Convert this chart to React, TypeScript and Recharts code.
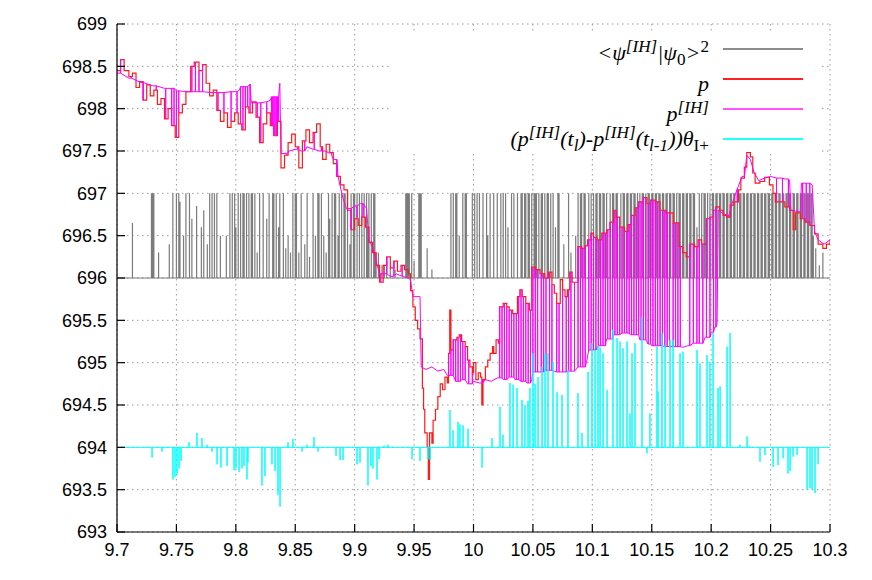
import React from 'react';
import { LineChart, Line, XAxis, YAxis, CartesianGrid, Legend } from 'recharts';

// ---------- axis ticks ----------
const xTicks = [9.7, 9.75, 9.8, 9.85, 9.9, 9.95, 10, 10.05, 10.1, 10.15, 10.2, 10.25, 10.3];
const yTicks = [693, 693.5, 694, 694.5, 695, 695.5, 696, 696.5, 697, 697.5, 698, 698.5, 699];

// ---------- p (price, red step line) ----------
const pPrice: number[][] = [
  [9.700, 698.45], [9.703, 698.58], [9.706, 698.45], [9.710, 698.38], [9.713, 698.42], [9.716, 698.25],
  [9.719, 698.32], [9.722, 698.10], [9.725, 698.28], [9.728, 698.15], [9.731, 698.22], [9.734, 698.05],
  [9.737, 698.12], [9.740, 697.88], [9.743, 698.00], [9.746, 697.80], [9.749, 697.66], [9.752, 697.95],
  [9.755, 698.05], [9.758, 698.20], [9.762, 698.50], [9.765, 698.55], [9.769, 698.45], [9.772, 698.52],
  [9.775, 698.30], [9.778, 698.15], [9.781, 698.22], [9.784, 697.98], [9.787, 697.85], [9.790, 697.95],
  [9.793, 697.78], [9.796, 697.85], [9.799, 697.95], [9.802, 697.82], [9.805, 697.75], [9.808, 698.02],
  [9.811, 697.95], [9.814, 698.08], [9.817, 697.90], [9.820, 697.60], [9.823, 697.82], [9.826, 697.95],
  [9.829, 697.80], [9.832, 697.68], [9.835, 697.85], [9.838, 697.30], [9.841, 697.45], [9.844, 697.60],
  [9.847, 697.70], [9.850, 697.55], [9.853, 697.30], [9.856, 697.62], [9.859, 697.75], [9.862, 697.60],
  [9.865, 697.72], [9.868, 697.82], [9.871, 697.55], [9.873, 697.40], [9.876, 697.58], [9.879, 697.48],
  [9.882, 697.35], [9.885, 697.20], [9.888, 697.10], [9.891, 697.04], [9.894, 696.80], [9.897, 696.57],
  [9.900, 696.70], [9.903, 696.62], [9.906, 696.72], [9.909, 696.60], [9.912, 696.42], [9.915, 696.30],
  [9.918, 696.15], [9.921, 695.95], [9.924, 696.15], [9.927, 696.25], [9.930, 696.12], [9.933, 696.20],
  [9.936, 696.08], [9.939, 696.15], [9.942, 696.10], [9.945, 696.05], [9.947, 695.85], [9.949, 695.66],
  [9.951, 695.50], [9.953, 695.40], [9.955, 695.28], [9.957, 694.70], [9.958, 694.45], [9.959, 694.17],
  [9.961, 694.00], [9.962, 693.62], [9.963, 694.17], [9.965, 694.05], [9.966, 694.32], [9.968, 694.45],
  [9.970, 694.60], [9.972, 694.75], [9.974, 694.68], [9.976, 694.83], [9.978, 694.76], [9.979, 695.11],
  [9.980, 695.62], [9.981, 695.15], [9.983, 695.27], [9.986, 695.30], [9.988, 695.33], [9.990, 695.25],
  [9.993, 695.19], [9.995, 695.03], [9.997, 694.95], [9.999, 694.88], [10.000, 695.00], [10.002, 694.80],
  [10.004, 694.88], [10.006, 694.83], [10.007, 694.50], [10.008, 694.80], [10.010, 694.95], [10.012, 695.03],
  [10.014, 695.11], [10.016, 695.19], [10.017, 695.11], [10.019, 695.27], [10.021, 695.23], [10.022, 695.66],
  [10.025, 695.70], [10.028, 695.66], [10.030, 695.62], [10.033, 695.58], [10.036, 695.58], [10.037, 695.78],
  [10.039, 695.86], [10.041, 695.78], [10.044, 695.70], [10.047, 695.62], [10.049, 696.13], [10.052, 696.10],
  [10.056, 696.05], [10.060, 696.00], [10.063, 696.07], [10.066, 695.92], [10.068, 695.82], [10.070, 695.70],
  [10.073, 695.98], [10.075, 695.86], [10.077, 695.78], [10.079, 695.86], [10.081, 696.07], [10.083, 695.95],
  [10.088, 696.37], [10.091, 696.35], [10.094, 696.38], [10.096, 696.45], [10.099, 696.53], [10.101, 696.48],
  [10.104, 696.45], [10.108, 696.53], [10.112, 696.57], [10.115, 696.66], [10.118, 696.80], [10.120, 696.72],
  [10.123, 696.60], [10.127, 696.55], [10.130, 696.63], [10.133, 696.74], [10.136, 696.83], [10.139, 696.90],
  [10.143, 696.95], [10.146, 696.88], [10.149, 696.92], [10.153, 696.90], [10.157, 696.80], [10.162, 696.77],
  [10.168, 696.65], [10.173, 696.37], [10.176, 696.30], [10.179, 696.25], [10.182, 696.40], [10.186, 696.37],
  [10.189, 696.45], [10.192, 696.40], [10.196, 696.70], [10.199, 696.72], [10.202, 696.80], [10.204, 696.84],
  [10.207, 696.80], [10.210, 696.74], [10.213, 696.72], [10.216, 696.86], [10.219, 696.90], [10.223, 697.04],
  [10.225, 697.18], [10.228, 697.31], [10.230, 697.48], [10.233, 697.43], [10.235, 697.24], [10.237, 697.12],
  [10.241, 697.14], [10.245, 697.19], [10.249, 697.10], [10.252, 697.00], [10.254, 696.90], [10.258, 696.90],
  [10.262, 696.84], [10.266, 696.80], [10.269, 696.57], [10.271, 696.77], [10.275, 696.70], [10.279, 696.66],
  [10.283, 696.62], [10.287, 696.52], [10.290, 696.40], [10.294, 696.35], [10.297, 696.40], [10.300, 696.45],
];

// ---------- p^[IH] (magenta): slow curve ----------
const pIHBase: number[][] = [
  [9.700, 698.42], [9.710, 698.36], [9.720, 698.31], [9.730, 698.27], [9.740, 698.24], [9.750, 698.21],
  [9.760, 698.20], [9.780, 698.19], [9.795, 698.20], [9.803, 698.22], [9.804, 698.26], [9.812, 698.29],
  [9.813, 698.07], [9.820, 698.07], [9.825, 698.08], [9.829, 698.10], [9.830, 698.14], [9.837, 698.30],
  [9.838, 697.47], [9.845, 697.50], [9.850, 697.52], [9.855, 697.50], [9.860, 697.55], [9.865, 697.52],
  [9.870, 697.50], [9.875, 697.50], [9.878, 697.48], [9.882, 697.40], [9.886, 697.20], [9.890, 696.95],
  [9.893, 696.82], [9.900, 696.85], [9.905, 696.88], [9.910, 696.82], [9.912, 696.45], [9.915, 696.37],
  [9.918, 696.20], [9.921, 696.05], [9.930, 696.02], [9.935, 696.05], [9.940, 696.02], [9.945, 696.00],
  [9.947, 695.98], [9.949, 695.78], [9.955, 695.78], [9.956, 694.95], [9.960, 694.92], [9.965, 694.95],
  [9.970, 694.90], [9.975, 694.92], [9.978, 694.85], [9.985, 694.78], [9.990, 694.80], [9.995, 694.75],
  [10.000, 694.78], [10.005, 694.76], [10.010, 694.80], [10.015, 694.78], [10.020, 694.82], [10.025, 694.80],
  [10.030, 694.83], [10.035, 694.80], [10.040, 694.78], [10.045, 694.76], [10.049, 694.80], [10.050, 694.89],
  [10.060, 694.91], [10.070, 694.89], [10.080, 694.90], [10.088, 694.95], [10.095, 695.00], [10.097, 695.15],
  [10.105, 695.20], [10.112, 695.28], [10.118, 695.33], [10.125, 695.35], [10.132, 695.33], [10.140, 695.27],
  [10.147, 695.22], [10.150, 695.20], [10.160, 695.19], [10.170, 695.19], [10.176, 695.18], [10.180, 695.20],
  [10.185, 695.23], [10.195, 695.30], [10.200, 695.36], [10.203, 695.42], [10.205, 695.47], [10.206, 696.80],
  [10.210, 696.76], [10.214, 696.74], [10.218, 696.90], [10.222, 697.05], [10.226, 697.20], [10.230, 697.45],
  [10.233, 697.40], [10.236, 697.25], [10.240, 697.15], [10.245, 697.18], [10.250, 697.20], [10.255, 697.18],
  [10.262, 697.17], [10.266, 697.15], [10.267, 696.80], [10.275, 696.78], [10.276, 697.12], [10.285, 697.10],
  [10.287, 696.55], [10.290, 696.45], [10.295, 696.40], [10.300, 696.45],
];

// times at which p^[IH] is reset to p (vertical magenta lines)
const pIHJumps: number[] = [
  9.703, 9.712, 9.722, 9.733, 9.741, 9.746, 9.748, 9.750, 9.752, 9.763, 9.766, 9.769, 9.772, 9.785, 9.790,
  9.796, 9.801, 9.804, 9.806, 9.808, 9.810, 9.812, 9.818, 9.821, 9.826, 9.830, 9.831, 9.832, 9.833, 9.834,
  9.835, 9.836, 9.843, 9.852, 9.858, 9.866, 9.872, 9.880, 9.885, 9.897, 9.902, 9.907, 9.922, 9.927, 9.933,
  9.940, 9.979, 9.981, 9.983, 9.985, 9.987, 9.989, 9.991, 9.993, 9.996, 9.999, 10.008, 10.022, 10.024,
  10.026, 10.028, 10.030, 10.032, 10.034, 10.036, 10.038, 10.040, 10.042, 10.044, 10.046, 10.048, 10.050,
  10.052, 10.054, 10.057, 10.059, 10.061, 10.064, 10.066, 10.070, 10.072, 10.075, 10.078, 10.080, 10.082,
  10.085, 10.088, 10.090, 10.092, 10.094, 10.097, 10.099, 10.101, 10.103, 10.105, 10.107, 10.109, 10.111,
  10.113, 10.115, 10.117, 10.119, 10.121, 10.123, 10.125, 10.127, 10.129, 10.131, 10.133, 10.135, 10.137,
  10.139, 10.141, 10.143, 10.145, 10.147, 10.149, 10.151, 10.153, 10.155, 10.157, 10.159, 10.161, 10.163,
  10.165, 10.168, 10.170, 10.172, 10.174, 10.182, 10.185, 10.188, 10.190, 10.193, 10.196, 10.199, 10.202,
  10.204, 10.215, 10.222, 10.228, 10.255, 10.260, 10.265, 10.277, 10.280, 10.283,
];

// ---------- <psi^[IH]|psi_0>^2 (gray impulses, drawn offset on 696) ----------
const overlapOffset = 696;
const overlapSpikes: number[][] = [
  [9.713, 0.65], [9.729, 1], [9.730, 1], [9.731, 1], [9.735, 0.3], [9.744, 0.4], [9.747, 1], [9.750, 1],
  [9.752, 1], [9.753, 0.9], [9.756, 0.5], [9.758, 1], [9.761, 1], [9.763, 0.7], [9.767, 0.85], [9.771, 0.6],
  [9.773, 0.8], [9.776, 0.4], [9.778, 1], [9.780, 1], [9.782, 1], [9.784, 1], [9.787, 0.5], [9.792, 0.5],
  [9.795, 1], [9.797, 1], [9.799, 1], [9.800, 0.6], [9.802, 1], [9.804, 1], [9.806, 1], [9.807, 1],
  [9.809, 1], [9.811, 1], [9.813, 1], [9.814, 1], [9.816, 1], [9.818, 0.3], [9.820, 1], [9.823, 1],
  [9.826, 0.7], [9.828, 1], [9.831, 1], [9.832, 1], [9.834, 1], [9.836, 0.6], [9.837, 1], [9.840, 1],
  [9.842, 0.35], [9.844, 0.5], [9.846, 0.3], [9.848, 1], [9.850, 1], [9.851, 1], [9.853, 0.3], [9.855, 1],
  [9.858, 0.4], [9.860, 1], [9.862, 0.25], [9.865, 1], [9.867, 0.5], [9.869, 1], [9.870, 1], [9.872, 1],
  [9.874, 0.5], [9.876, 0.3], [9.878, 1], [9.879, 0.7], [9.881, 1], [9.883, 1], [9.884, 1], [9.886, 0.5],
  [9.887, 1], [9.889, 1], [9.891, 1], [9.892, 1], [9.894, 1], [9.896, 0.4], [9.897, 1], [9.899, 1],
  [9.900, 1], [9.902, 1], [9.904, 1], [9.906, 1], [9.908, 1], [9.910, 1], [9.911, 0.6], [9.912, 1],
  [9.914, 1], [9.916, 1], [9.917, 1], [9.918, 0.3], [9.920, 0.3], [9.923, 0.15], [9.925, 0.15],
  [9.927, 0.2], [9.930, 0.12], [9.934, 0.1], [9.943, 1], [9.944, 1], [9.945, 1], [9.946, 1], [9.948, 1],
  [9.950, 0.2], [9.954, 1], [9.955, 1], [9.956, 1], [9.961, 0.35], [9.965, 0.1], [9.981, 1], [9.983, 1],
  [9.985, 1], [9.986, 1], [9.988, 0.5], [9.991, 1], [9.993, 1], [9.994, 1], [9.999, 1], [10.001, 1],
  [10.003, 1], [10.005, 1], [10.008, 1], [10.011, 1], [10.012, 0.5], [10.014, 1], [10.017, 1], [10.020, 1],
  [10.023, 1], [10.025, 1], [10.027, 1], [10.029, 0.6], [10.032, 1], [10.034, 1], [10.037, 1], [10.040, 1],
  [10.041, 1], [10.043, 1], [10.044, 1], [10.046, 1], [10.047, 1], [10.049, 1], [10.051, 1], [10.052, 1],
  [10.053, 1], [10.055, 1], [10.057, 1], [10.058, 1], [10.060, 1], [10.062, 1], [10.063, 1], [10.065, 1],
  [10.067, 1], [10.069, 0.6], [10.071, 1], [10.072, 1], [10.076, 0.4], [10.080, 1], [10.082, 0.3],
  [10.086, 0.5], [10.088, 1], [10.090, 1], [10.091, 1], [10.093, 1], [10.094, 1], [10.097, 1], [10.099, 1],
  [10.101, 1], [10.103, 1], [10.104, 1], [10.106, 1], [10.107, 1], [10.109, 1], [10.110, 1], [10.112, 1],
  [10.115, 1], [10.117, 1], [10.118, 1], [10.120, 1], [10.121, 1], [10.124, 1], [10.126, 1], [10.127, 1],
  [10.129, 1], [10.130, 1], [10.132, 1], [10.133, 1], [10.135, 1], [10.136, 1], [10.138, 1], [10.140, 1],
  [10.142, 1], [10.143, 1], [10.145, 1], [10.147, 1], [10.148, 1], [10.150, 1], [10.151, 1], [10.153, 1],
  [10.154, 1], [10.156, 1], [10.157, 1], [10.159, 1], [10.160, 1], [10.162, 1], [10.163, 1], [10.165, 1],
  [10.166, 1], [10.168, 1], [10.169, 1], [10.171, 1], [10.173, 1], [10.174, 1], [10.176, 1], [10.177, 1],
  [10.179, 1], [10.180, 1], [10.182, 1], [10.183, 1], [10.185, 1], [10.186, 1], [10.188, 0.6], [10.190, 1],
  [10.192, 1], [10.194, 1], [10.195, 1], [10.197, 1], [10.199, 1], [10.201, 1], [10.202, 1], [10.204, 1],
  [10.205, 1], [10.207, 1], [10.208, 1], [10.210, 1], [10.211, 1], [10.213, 1], [10.214, 1], [10.216, 1],
  [10.217, 1], [10.219, 1], [10.220, 1], [10.222, 1], [10.224, 1], [10.225, 1], [10.227, 1], [10.228, 1],
  [10.230, 1], [10.231, 1], [10.233, 1], [10.234, 1], [10.236, 1], [10.237, 1], [10.239, 1], [10.240, 1],
  [10.242, 1], [10.243, 1], [10.245, 1], [10.246, 1], [10.248, 1], [10.249, 1], [10.251, 1], [10.252, 1],
  [10.254, 1], [10.255, 1], [10.257, 1], [10.258, 1], [10.260, 1], [10.261, 1], [10.263, 1], [10.264, 1],
  [10.266, 1], [10.267, 1], [10.269, 1], [10.270, 1], [10.272, 1], [10.273, 1], [10.275, 1], [10.276, 1],
  [10.278, 1], [10.279, 1], [10.281, 1], [10.282, 1], [10.284, 1], [10.285, 1], [10.286, 0.5],
  [10.288, 0.35], [10.291, 0.15], [10.294, 0.3],
];

// ---------- (p^[IH](t_l)-p^[IH](t_{l-1})) theta (cyan impulses, baseline 694) ----------
const thetaBaseline = 694;
const thetaSpikes: number[][] = [
  [9.7295, 693.88], [9.7379, 693.95], [9.7471, 693.62], [9.7488, 693.65], [9.7505, 693.68], [9.7522, 693.75],
  [9.7539, 693.84], [9.7606, 694.06], [9.7673, 694.17], [9.7715, 694.11], [9.7757, 694.03], [9.7799, 693.95],
  [9.7842, 693.80], [9.7875, 693.76], [9.7926, 693.78], [9.7985, 693.73], [9.8001, 693.75], [9.8027, 693.71],
  [9.8052, 693.75], [9.8069, 693.78], [9.8094, 693.62], [9.8102, 693.82], [9.822, 693.55], [9.8245, 693.66],
  [9.8304, 693.80], [9.833, 693.72], [9.8355, 693.44], [9.8372, 693.30], [9.8439, 694.06], [9.8481, 694.10],
  [9.8557, 693.95], [9.8599, 694.03], [9.8658, 694.12], [9.8692, 693.95], [9.8843, 693.90], [9.8877, 693.85],
  [9.8902, 693.85], [9.902, 693.80], [9.9045, 693.82], [9.9112, 693.55], [9.9137, 693.78], [9.9154, 693.75],
  [9.9188, 693.62], [9.9205, 693.86], [9.9247, 694.02], [9.928, 694.03], [9.9483, 693.86], [9.955, 693.84],
  [9.9617, 693.86], [9.9635, 693.85], [9.9802, 694.44], [9.9828, 694.20], [9.987, 694.30], [9.9886, 694.27],
  [9.9912, 694.26], [9.9954, 694.22], [10.0072, 693.76], [10.0156, 694.11], [10.0223, 694.48], [10.0248, 694.15],
  [10.0307, 694.76], [10.0333, 694.74], [10.0366, 694.70], [10.0408, 694.56], [10.0433, 694.50], [10.0459, 694.55],
  [10.0475, 694.70], [10.0501, 695.11], [10.0518, 694.75], [10.0543, 694.83], [10.0577, 694.95], [10.0602, 695.11],
  [10.0627, 695.11], [10.0669, 695.01], [10.0703, 694.65], [10.0745, 694.62], [10.0795, 694.91], [10.0879, 694.64],
  [10.0913, 694.17], [10.0964, 694.89], [10.0997, 695.23], [10.1023, 695.15], [10.1048, 695.20], [10.1065, 695.18],
  [10.109, 695.11], [10.1124, 694.68], [10.1174, 695.39], [10.1208, 695.29], [10.1233, 695.25], [10.1258, 695.17],
  [10.1292, 695.25], [10.1317, 694.40], [10.1334, 695.11], [10.1359, 695.23], [10.1418, 695.54], [10.146, 693.93],
  [10.1485, 694.40], [10.1544, 695.19], [10.1553, 694.66], [10.1586, 695.35], [10.1612, 695.21], [10.1654, 695.27],
  [10.1679, 695.27], [10.1738, 695.11], [10.1763, 695.13], [10.1881, 695.15], [10.1906, 694.99], [10.1965, 695.09],
  [10.199, 695.01], [10.2016, 695.35], [10.2058, 694.70], [10.2075, 694.72], [10.2134, 695.19], [10.2159, 695.35],
  [10.2243, 694.03], [10.2302, 694.13], [10.2327, 694.01], [10.2411, 693.83], [10.2453, 693.91], [10.2521, 693.77],
  [10.2563, 693.79], [10.2605, 693.87], [10.2647, 693.69], [10.2664, 693.72], [10.2689, 693.89], [10.2723, 693.91],
  [10.2807, 693.50], [10.2832, 693.52], [10.2849, 693.50], [10.2874, 693.46], [10.29, 693.80],
];

// ---------- build series tables ----------
const X_MIN = xTicks[0];
const X_MAX = xTicks[xTicks.length - 1];

const stepAt = (s: number[][], x: number) => {
  let v = s[0][1];
  for (const [sx, sy] of s) {
    if (sx <= x + 1e-9) v = sy;
    else break;
  }
  return v;
};

const impulses = (base: number, spikes: number[][]) => {
  const sorted = [...spikes].sort((a, b) => a[0] - b[0]);
  const out: { x: number; y: number }[] = [{ x: X_MIN, y: base }];
  for (const [x, v] of sorted) out.push({ x, y: base }, { x, y: v }, { x, y: base });
  out.push({ x: X_MAX, y: base });
  return out;
};

const priceData = pPrice.map(([x, y]) => ({ x, y }));
const overlapData = impulses(overlapOffset, overlapSpikes.map(([x, h]) => [x, overlapOffset + h]));
const thetaData = impulses(thetaBaseline, thetaSpikes);
const ihData = (() => {
  const evts = [
    ...pIHBase.map(([x, y]) => ({ x, y, k: 0 })),
    ...pIHJumps.map((x) => ({ x, y: 0, k: 1 })),
  ].sort((a, b) => a.x - b.x || a.k - b.k);
  const out: { x: number; y: number }[] = [];
  for (const e of evts) {
    if (e.k === 0) out.push({ x: e.x, y: e.y });
    else {
      const b = stepAt(pIHBase, e.x);
      const t = stepAt(pPrice, e.x);
      out.push({ x: e.x, y: b }, { x: e.x, y: t }, { x: e.x, y: b });
    }
  }
  return out;
})();

// ---------- legend ----------
const up = (t: string, italic = true) => (
  <span style={{ fontSize: '0.78em', fontStyle: italic ? 'italic' : 'normal', verticalAlign: '0.45em', lineHeight: 0 }}>{t}</span>
);
const dn = (t: string, italic = false) => (
  <span style={{ fontSize: '0.78em', fontStyle: italic ? 'italic' : 'normal', verticalAlign: '-0.3em', lineHeight: 0 }}>{t}</span>
);

const legendColors = ['#8c8c8c', '#ff2020', '#ff55ff', '#22ffff'];
const legendWidths = [2, 2, 2, 2];
const legendLabels = [
  <>&lt;ψ{up('[IH]')}|ψ{dn('0')}&gt;{up('2', false)}</>,
  <>p</>,
  <>p{up('[IH]')}</>,
  <>(p{up('[IH]')}(t{dn('l', true)})-p{up('[IH]')}(t{dn('l-1', true)}))θ{dn('I+')}</>,
];
const legendBaselines = [27, 58, 88, 113];
const legendLineY = [16, 46, 76, 106];

const KeyBox = () => (
  <div style={{ position: 'relative', width: 429, height: 119, background: '#fff' }}>
    {legendLabels.map((lab, i) => (
      <div
        key={i}
        style={{
          position: 'absolute',
          right: 429 - 317,
          top: legendBaselines[i] - 19.6,
          whiteSpace: 'nowrap',
          fontFamily: '"Liberation Serif", "DejaVu Serif", serif',
          fontStyle: 'italic',
          fontSize: 22,
          lineHeight: 'normal',
          color: '#000',
        }}
      >
        {lab}
      </div>
    ))}
    <svg width={429} height={119} style={{ position: 'absolute', left: 0, top: 0 }}>
      {legendColors.map((c, i) => (
        <line key={i} x1={331} x2={411} y1={legendLineY[i]} y2={legendLineY[i]} stroke={c} strokeWidth={legendWidths[i]} />
      ))}
    </svg>
  </div>
);

const tickStyle = { fill: '#000', fontSize: 18, fontFamily: '"Liberation Sans", Arial, sans-serif' };
const noLabel = () => <g />;

export default function App() {
  return (
    <div style={{ width: 864, height: 572 }}>
      <LineChart width={864} height={572} margin={{ top: 16, right: 42, bottom: 0, left: 0 }}>
        <CartesianGrid xAxisId="b" yAxisId="l" stroke="#9a9a9a" strokeDasharray="1.5 3.5" />
        <XAxis
          xAxisId="b"
          dataKey="x"
          type="number"
          domain={[X_MIN, X_MAX]}
          ticks={xTicks}
          allowDataOverflow
          height={48}
          tickSize={-8}
          tickMargin={19}
          tick={tickStyle}
          stroke="#000"
          strokeWidth={1.2}
          interval={0}
        />
        <XAxis
          xAxisId="t"
          orientation="top"
          dataKey="x"
          type="number"
          domain={[X_MIN, X_MAX]}
          ticks={xTicks}
          allowDataOverflow
          height={0}
          tickSize={-8}
          tick={noLabel}
          stroke="#000"
          strokeWidth={1.2}
          interval={0}
        />
        <YAxis
          yAxisId="l"
          type="number"
          domain={[693, 699]}
          ticks={yTicks}
          allowDataOverflow
          width={109}
          tickSize={-8}
          tickMargin={18}
          tick={tickStyle}
          stroke="#000"
          strokeWidth={1.2}
          interval={0}
        />
        <YAxis
          yAxisId="r"
          orientation="right"
          type="number"
          domain={[693, 699]}
          ticks={yTicks}
          allowDataOverflow
          width={0}
          tickSize={-8}
          tick={noLabel}
          stroke="#000"
          strokeWidth={1.2}
          interval={0}
        />
        <Line
          xAxisId="b"
          yAxisId="l"
          data={overlapData}
          dataKey="y"
          type="linear"
          stroke="#7c7c7c"
          strokeWidth={1.2}
          dot={false}
          activeDot={false}
          isAnimationActive={false}
        />
        <Line
          xAxisId="b"
          yAxisId="l"
          data={priceData}
          dataKey="y"
          type="stepAfter"
          stroke="#ff1a1a"
          strokeWidth={1.2}
          dot={false}
          activeDot={false}
          isAnimationActive={false}
        />
        <Line
          xAxisId="b"
          yAxisId="l"
          data={ihData}
          dataKey="y"
          type="linear"
          stroke="#ff00ff"
          strokeWidth={1}
          dot={false}
          activeDot={false}
          isAnimationActive={false}
        />
        <Line
          xAxisId="b"
          yAxisId="l"
          data={thetaData}
          dataKey="y"
          type="linear"
          stroke="#00ffff"
          strokeWidth={1}
          dot={false}
          activeDot={false}
          isAnimationActive={false}
        />
        <Legend
          layout="vertical"
          align="center"
          verticalAlign="middle"
          content={() => <KeyBox />}
          wrapperStyle={{ position: 'absolute', left: 384, top: 25, width: 429, height: 119 }}
        />
      </LineChart>
    </div>
  );
}
